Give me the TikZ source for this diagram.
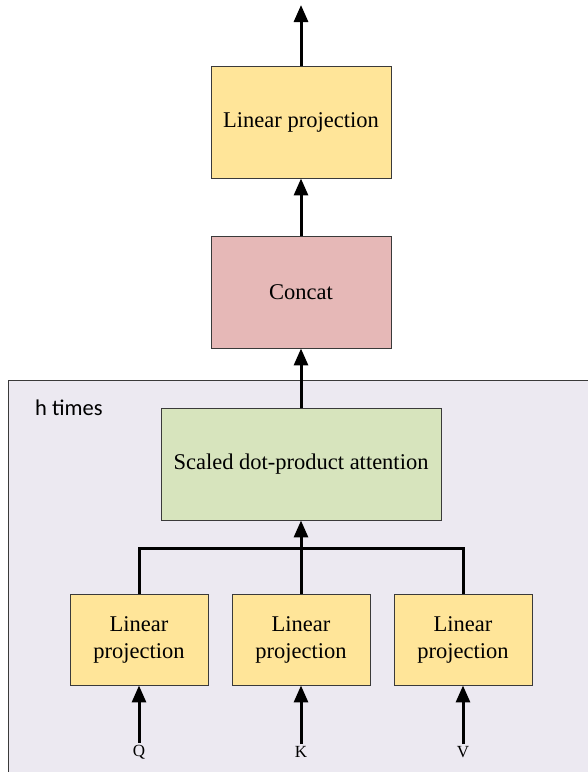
\documentclass[tikz,border=0pt]{standalone}
\usepackage{fontspec}
\setmainfont{Liberation Serif}
\newfontfamily\labelfont{Carlito}
\usetikzlibrary{arrows.meta}
\definecolor{projfill}{HTML}{FFE599}
\definecolor{concatfill}{HTML}{E6B8B7}
\definecolor{attnfill}{HTML}{D7E4BD}
\definecolor{groupfill}{HTML}{ECE9F1}
\definecolor{edgegray}{HTML}{3A3A3A}
\tikzset{
  block/.style={draw=edgegray, line width=0.9pt, align=center, font=\fontsize{22.5}{27}\selectfont, inner sep=0pt},
  proj/.style={block, fill=projfill},
  flow/.style={line width=3pt, -{Triangle[length=17pt,width=14pt]}},
  wire/.style={line width=3pt},
  inlabel/.style={font=\fontsize{17}{19}\selectfont, inner sep=0pt}
}
\begin{document}
\begin{tikzpicture}[x=1pt,y=-1pt]
\useasboundingbox (0,0) rectangle (588,772);
% group of repeated heads
\fill[groupfill] (8,380) rectangle (600,800);
\draw[edgegray, line width=0.9pt] (8,800) -- (8,380) -- (600,380);
\node[anchor=west, font=\labelfont\fontsize{22.5}{26}\selectfont, inner sep=0pt] (htimes) at (35,408) {h times};

% blocks
\node[proj, minimum width=180pt, minimum height=112pt] (out) at (301,122) {Linear projection};
\node[block, fill=concatfill, minimum width=180pt, minimum height=112pt] (concat) at (301,292) {Concat};
\node[block, fill=attnfill, minimum width=280pt, minimum height=112pt] (attn) at (301,464) {Scaled dot-product attention};
\node[proj, minimum width=138pt, minimum height=91pt] (pq) at (139,639.5) {Linear\\projection};
\node[proj, minimum width=138pt, minimum height=91pt] (pk) at (301,639.5) {Linear\\projection};
\node[proj, minimum width=138pt, minimum height=91pt] (pv) at (463,639.5) {Linear\\projection};

% inputs
\node[inlabel] (q) at (139,752) {Q};
\node[inlabel] (k) at (301,752) {K};
\node[inlabel] (v) at (463,752) {V};

\coordinate (top) at (301,5);
\coordinate (join) at (301,548);

% connectors
\draw[flow] (q.north) ++(0,-2) -- (pq.south);
\draw[flow] (k.north) ++(0,-2) -- (pk.south);
\draw[flow] (v.north) ++(0,-2) -- (pv.south);
\draw[wire] (pq.north) |- (join) -| (pv.north);
\draw[flow] (pk.north) -- (attn.south);
\draw[flow] (attn.north) -- (concat.south);
\draw[flow] (concat.north) -- (out.south);
\draw[flow] (out.north) -- (top);
\end{tikzpicture}
\end{document}
